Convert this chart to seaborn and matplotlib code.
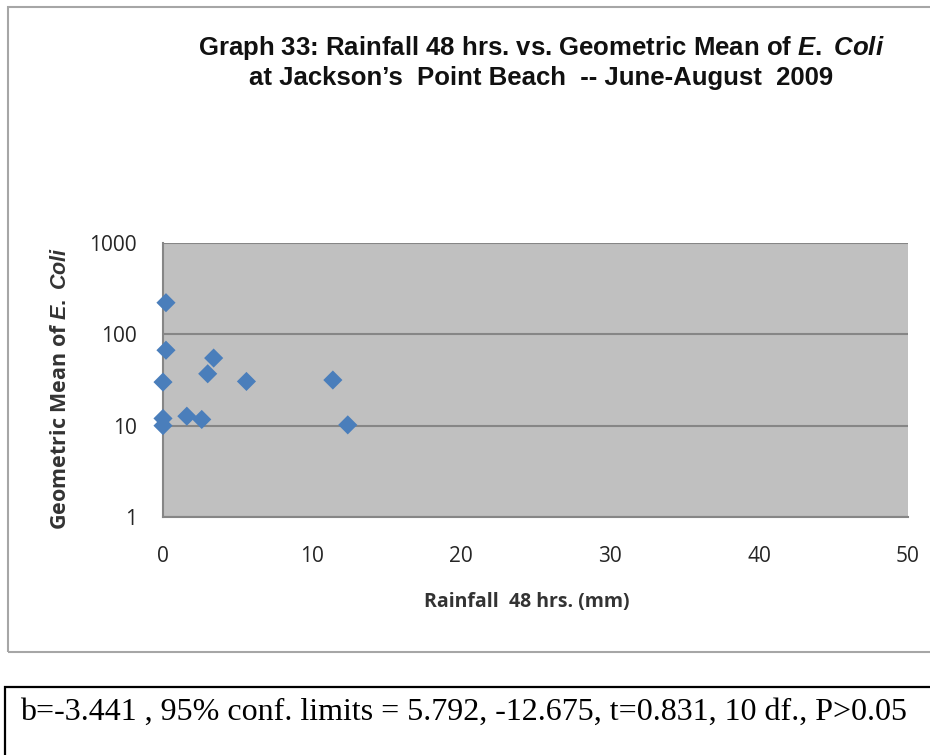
import matplotlib
matplotlib.use("Agg")
import matplotlib.pyplot as plt
from matplotlib.patches import Rectangle
from matplotlib.ticker import NullLocator, FixedLocator
import seaborn as sns
import pandas as pd

# Data
rainfall_mm = [0.2, 0.2, 3.4, 3.0, 0.0, 5.6, 11.4, 0.0, 0.0, 1.6, 2.6, 12.4]
geo_mean_ecoli = [222, 67, 55, 37, 30, 30.5, 31.6, 12, 10, 12.7, 11.7, 10.2]
x_ticks = [0, 10, 20, 30, 40, 50]
y_ticks = [1, 10, 100, 1000]
stats_text = "b=-3.441 , 95% conf. limits = 5.792, -12.675, t=0.831, 10 df., P>0.05"

df = pd.DataFrame({"rain": rainfall_mm, "gm": geo_mean_ecoli})

sns.set_theme(style="white")
plt.rcParams["font.family"] = ["Open Sans", "DejaVu Sans"]
plt.rcParams["mathtext.fontset"] = "custom"
plt.rcParams["mathtext.it"] = "Liberation Sans:italic:bold"
plt.rcParams["mathtext.rm"] = "Liberation Sans:bold"

W, H = 930, 755
fig = plt.figure(figsize=(W / 100, H / 100), dpi=100)
fig.patch.set_facecolor("white")

# outer chart border
fig.add_artist(Rectangle((8 / W, 1 - 652 / H), 1.0, (652 - 7) / H, transform=fig.transFigure,
                         fill=False, ec="#a6a6a6", lw=1.5))
# stats box
fig.add_artist(Rectangle((5 / W, -0.05), 1.0, (755 - 687) / H + 0.05, transform=fig.transFigure,
                         fill=False, ec="#000000", lw=1.6))

ax = fig.add_axes([163 / W, 1 - 517 / H, (908 - 163) / W, (517 - 243) / H])
ax.set_facecolor("#c0c0c0")

sns.scatterplot(data=df, x="rain", y="gm", marker="D", s=95, color="#4a7ebb",
                edgecolor="none", ax=ax, zorder=3, clip_on=False, legend=False)

ax.set_yscale("log")
ax.set_xlim(0, 50)
ax.set_ylim(1, 1000)
ax.yaxis.set_major_locator(FixedLocator(y_ticks))
ax.yaxis.set_minor_locator(NullLocator())
ax.set_yticklabels([str(v) for v in y_ticks])
ax.set_xticks(x_ticks)
ax.set_xticklabels([str(v) for v in x_ticks])

ax.grid(axis="y", color="#868686", lw=1.5)
ax.grid(axis="x", visible=False)
ax.set_axisbelow(True)
for s in ["top", "right"]:
    ax.spines[s].set_visible(False)
for s in ["left", "bottom"]:
    ax.spines[s].set_color("#868686")
    ax.spines[s].set_linewidth(1.5)
ax.tick_params(axis="both", direction="out", width=1.5, color="#868686",
               labelsize=15, labelcolor="#262626")
ax.tick_params(axis="x", length=6, pad=15)
ax.tick_params(axis="y", length=8, pad=11)
ax.set_xlabel("")
ax.set_ylabel("")

title_font = ["Liberation Sans"]
fig.text(541 / W, 1 - 48 / H,
         "Graph 33: Rainfall 48 hrs. vs. Geometric Mean of $\\mathit{E.}$ $\\mathit{Coli}$",
         ha="center", va="center", family=title_font, weight="bold", size=18.5, color="#111111")
fig.text(541 / W, 1 - 78 / H, "at Jackson\u2019s  Point Beach  -- June-August  2009",
         ha="center", va="center", family=title_font, weight="bold", size=18.5, color="#111111")

fig.text(527 / W, 1 - 602 / H, "Rainfall  48 hrs. (mm)", ha="center", va="center",
         weight="bold", size=14, color="#333333")
fig.text(60 / W, 1 - 388 / H, "Geometric Mean of $\\mathit{E.}$ $\\mathit{Coli}$", ha="center",
         va="center", rotation=90, weight="bold", size=15.5, color="#333333")

fig.text(20 / W, 1 - 712 / H, stats_text, ha="left", va="center",
         family=["Liberation Serif", "DejaVu Serif"], size=23, color="#000000")

fig.savefig("out.png", dpi=100)
